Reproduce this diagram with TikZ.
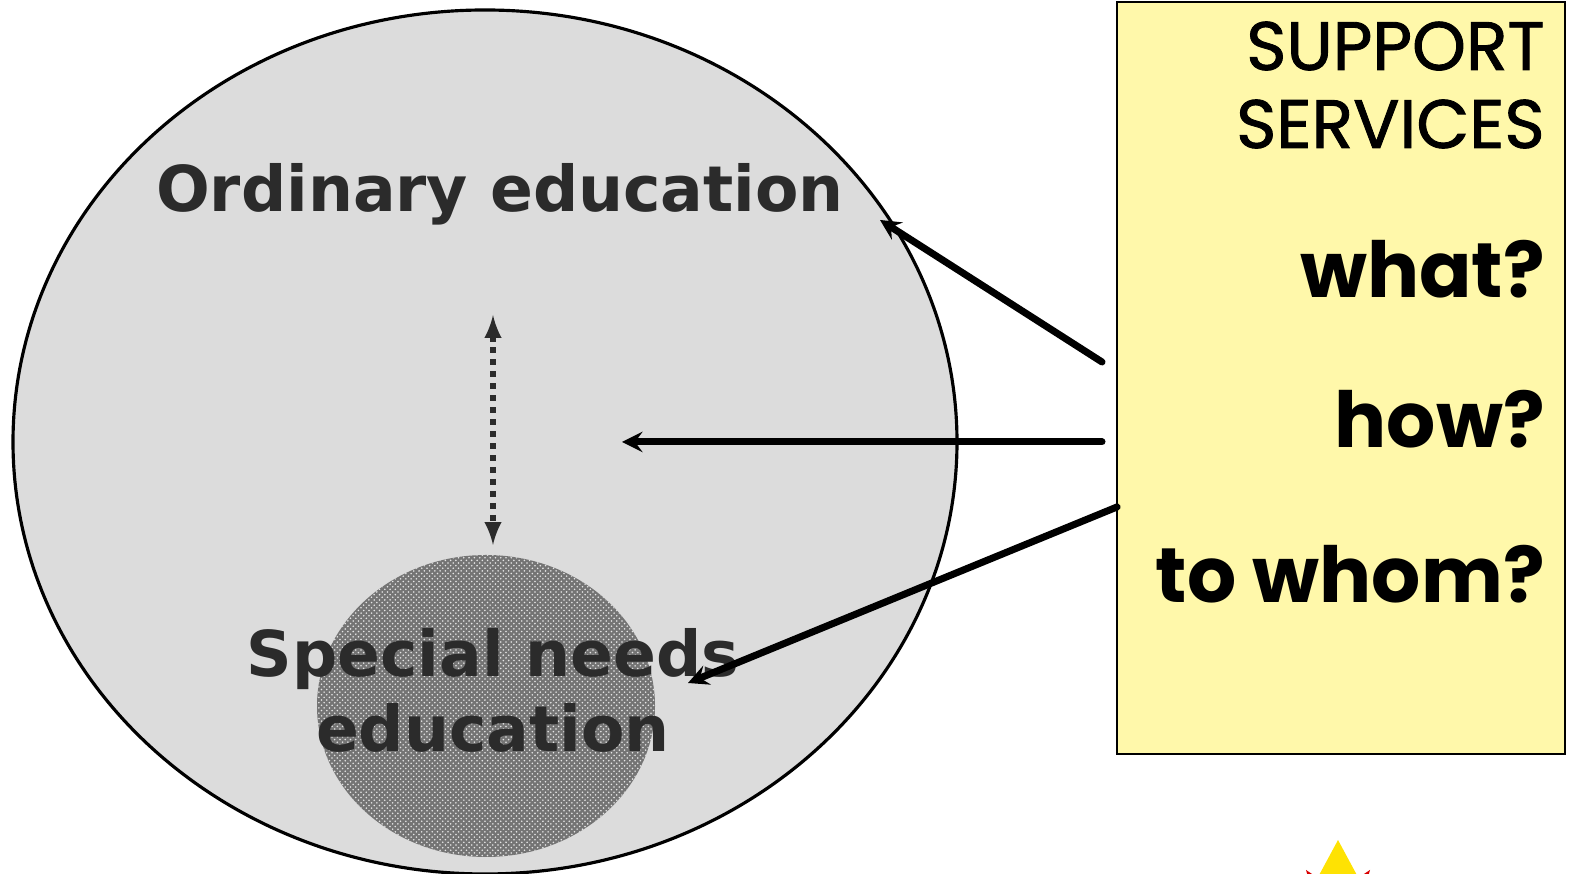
\documentclass[tikz,border=0pt]{standalone}
\usepackage{fontspec}
\setmainfont{DejaVu Sans}
\newfontfamily\notefont{Poppins}[FakeBold=1.3]
\newfontfamily\askfont{Poppins}
\usetikzlibrary{arrows,calc,patterns,shapes.geometric}
\usepackage{tkz-euclide}
\definecolor{CircleClr}{HTML}{DCDCDC}
\definecolor{TextClr}{HTML}{2B2B2B}
\definecolor{NoteClr}{HTML}{FFF8AA}
\definecolor{DotsClr}{HTML}{747474}

\begin{document}
\begin{tikzpicture}[x=.02cm,y=.02cm]
\useasboundingbox (0,0) rectangle (1569,874);

\tkzDefPoints{485/432/O,486/168/S,1117/120/P,1565/872/Q}
\tkzDefPoints{1102/512/A1,880/654/B1,1102/432/A2,622/432/B2,1117/367/A3,688/191/B3}
\tkzDefPoints{493/559/U,493/329/D}

\fill[CircleClr] (O) ellipse [x radius=472,y radius=432];
\draw[line width=1.8pt] (O) ellipse [x radius=472,y radius=432];

\fill[DotsClr] (S) ellipse [x radius=169,y radius=151];
\fill[pattern=crosshatch dots,pattern color=white!80!gray] (S) ellipse [x radius=169,y radius=151];

\draw[fill=NoteClr,line width=1.2pt] (P) rectangle (Q);

\node[anchor=base,text=TextClr,font=\bfseries\fontsize{36}{44}\selectfont] (ord) at (500,662) {Ordinary education};
\node[anchor=base,text=TextClr,font=\bfseries\fontsize{36}{44}\selectfont] (spec) at (493,197) {Special needs};
\node[anchor=base,text=TextClr,font=\bfseries\fontsize{36}{44}\selectfont] (edu) at (493,122) {education};

\node[anchor=base east,inner sep=0pt,font=\notefont\fontsize{39}{40}\selectfont] (sup) at (1545,804) {SUPPORT};
\node[anchor=base east,inner sep=0pt,font=\notefont\fontsize{39}{40}\selectfont] (ser) at (1545,726) {SERVICES};
\node[anchor=base east,inner sep=0pt,font=\askfont\bfseries\fontsize{44}{50}\selectfont] (what) at (1545,576) {what?};
\node[anchor=base east,inner sep=0pt,font=\askfont\bfseries\fontsize{44}{50}\selectfont] (how) at (1545,426) {how?};
\node[anchor=base east,inner sep=0pt,font=\askfont\bfseries\fontsize{44}{50}\selectfont] (whom) at (1545,271) {to whom?};

\tkzDrawSegments[line width=4pt,-stealth](A1,B1 A2,B2 A3,B3)
\draw[TextClr,line width=3.4pt,dash pattern=on 3.4pt off 3.4pt,latex-latex] (U) -- (D);

\node[star,star points=5,star point ratio=2.4,inner sep=0pt,minimum size=62pt,
  fill=red!85!black,rotate=36] (st1) at (1338,-40) {};
\node[star,star points=5,star point ratio=1.9,inner sep=0pt,minimum size=74pt,
  fill=yellow!85!orange] (st2) at (1338,-31) {};

\end{tikzpicture}
\end{document}
